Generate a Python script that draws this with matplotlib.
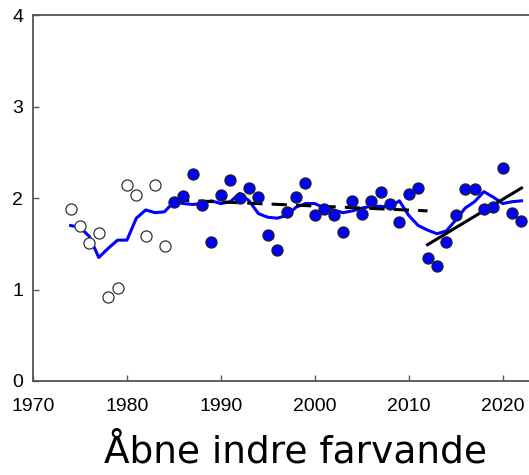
import matplotlib.pyplot as plt

# open circles (early period)
early_years = [1974, 1975, 1976, 1977, 1978, 1979, 1980, 1981, 1982, 1983, 1984]
early_vals = [1.88, 1.70, 1.51, 1.62, 0.92, 1.02, 2.14, 2.03, 1.58, 2.14, 1.48]

# filled circles
years = list(range(1985, 2023))
vals = [1.96, 2.02, 2.26, 1.92, 1.52, 2.03, 2.20, 2.00, 2.11, 2.01,
        1.60, 1.43, 1.85, 2.01, 2.17, 1.81, 1.88, 1.82, 1.63, 1.97,
        1.83, 1.97, 2.07, 1.94, 1.74, 2.05, 2.11, 1.34, 1.26, 1.52,
        1.82, 2.10, 2.10, 1.88, 1.90, 2.33, 1.84, 1.75]

# smoothed line
smooth_years = list(range(1974, 2023))
smooth_vals = [1.70, 1.68, 1.58, 1.35, 1.45, 1.54, 1.54, 1.78, 1.87, 1.84,
               1.85, 1.96, 1.94, 1.93, 1.94, 1.97, 1.94, 1.96, 2.05, 1.97,
               1.83, 1.79, 1.78, 1.81, 1.90, 1.94, 1.94, 1.89, 1.87, 1.84,
               1.86, 1.89, 1.91, 1.91, 1.90, 1.97, 1.81, 1.70, 1.65, 1.61,
               1.64, 1.76, 1.89, 1.96, 2.07, 2.01, 1.94, 1.96, 1.97]

# trend lines
trend1_years = [1985, 2012]
trend1_vals = [1.98, 1.86]
trend2_years = [2012, 2022]
trend2_vals = [1.49, 2.11]

plt.rcParams['font.family'] = ['Liberation Sans', 'DejaVu Sans']

fig = plt.figure(figsize=(5.29, 4.75), dpi=100)
ax = fig.add_axes([0.0624, 0.198, 0.9376, 0.77])

ax.plot(smooth_years, smooth_vals, color='#0000ff', lw=2.2, zorder=2)
ax.plot(trend1_years, trend1_vals, color='black', lw=2.2, ls=(0, (5, 3)), zorder=3)
ax.plot(trend2_years, trend2_vals, color='black', lw=2.2, zorder=3)
ax.plot(early_years, early_vals, 'o', ms=8, mfc='white', mec='#333333', mew=0.9, zorder=4)
ax.plot(years, vals, 'o', ms=8, mfc='#0000ff', mec='#222222', mew=0.9, zorder=4)

ax.set_xlim(1970, 2022.8)
ax.set_ylim(0, 4)
ax.set_xticks([1970, 1980, 1990, 2000, 2010, 2020])
ax.set_yticks([0, 1, 2, 3, 4])
ax.tick_params(direction='in', length=4, width=1, color='#555555', labelsize=14)
ax.tick_params(axis='x', pad=12)
ax.tick_params(axis='y', pad=7)
ax.spines['right'].set_visible(False)
for s in ['left', 'bottom', 'top']:
    ax.spines[s].set_color('#555555')
    ax.spines[s].set_linewidth(1.3)

fig.text(0.559, 0.048, 'Åbne indre farvande', ha='center', va='center', fontsize=27,
         family=['DejaVu Sans'])

fig.savefig('out.png', dpi=100)
